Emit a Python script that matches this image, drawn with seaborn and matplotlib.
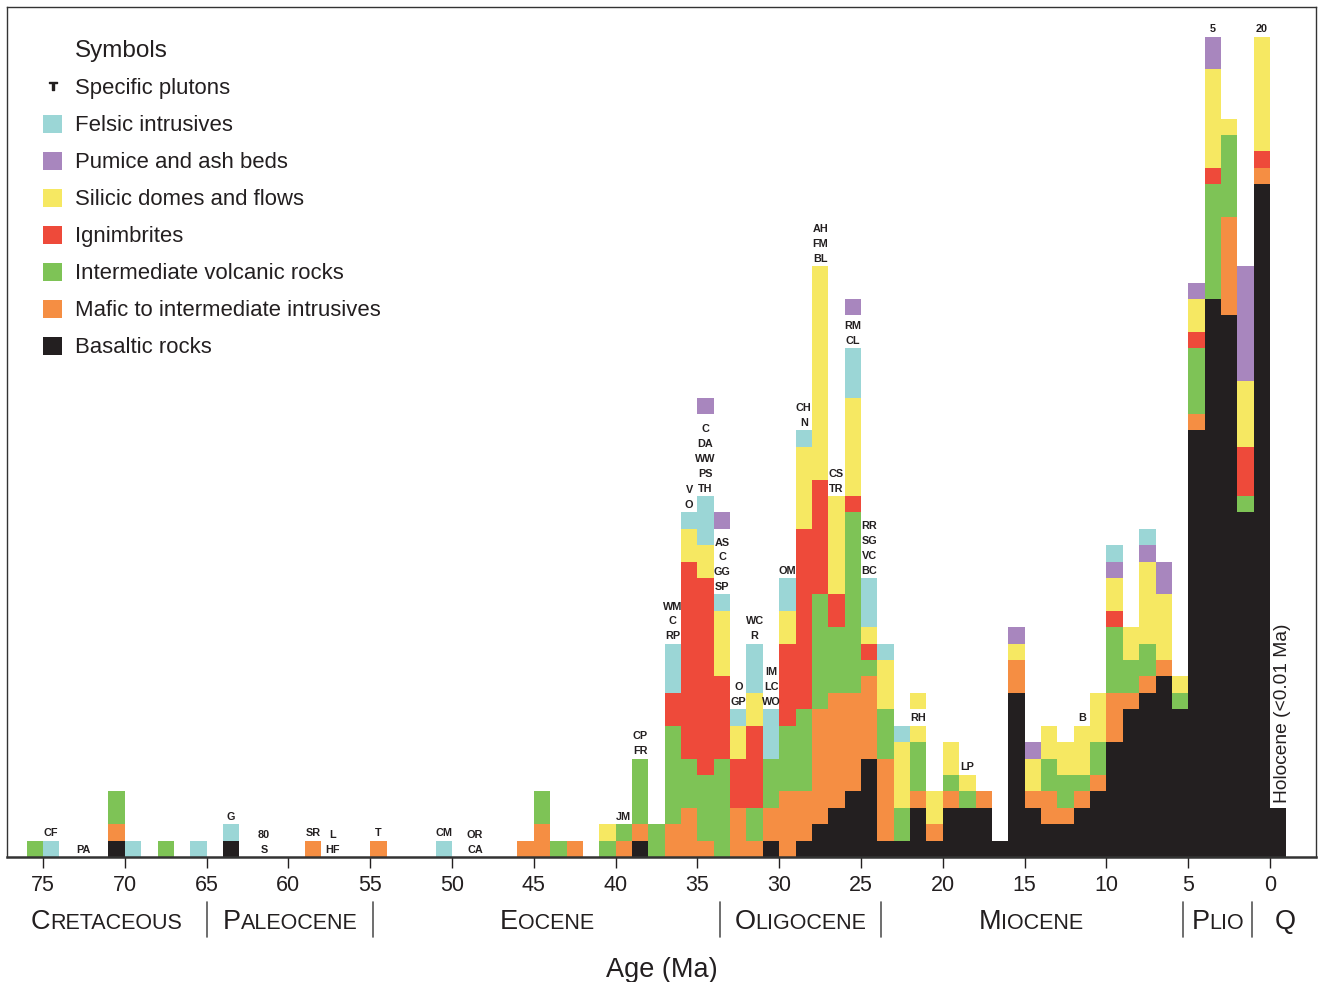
import numpy as np
import pandas as pd
import matplotlib
matplotlib.use('Agg')
import matplotlib.pyplot as plt
from matplotlib.patches import Patch
from matplotlib.lines import Line2D
from matplotlib.offsetbox import TextArea, HPacker, AnnotationBbox
import seaborn as sns

# start (Ma) of each 1-Ma bin that holds something, young -> old
bin_start = [-1, 0, 1, 2, 3, 4, 5, 6, 7, 8, 9,
             10, 11, 12, 13, 14, 15, 16, 17, 18, 19,
             20, 21, 22, 23, 24, 25, 26, 27, 28, 29,
             30, 31, 32, 33, 34, 35, 36, 37, 38, 39, 40,
             42, 43, 44, 45, 50, 54, 58, 63, 65, 67, 69, 70, 74, 75]

basaltic = [3, 41, 21, 33, 34, 26, 9, 11, 10, 9, 7,
            4, 3, 2, 2, 3, 10, 1, 3, 3, 3,
            1, 3, 1, 1, 6, 4, 3, 2, 1, 0,
            1, 0, 0, 0, 0, 0, 0, 0, 1, 0, 0,
            0, 0, 0, 0, 0, 0, 0, 1, 0, 0, 0, 1, 0, 0]
mafic = [0, 1, 0, 6, 0, 1, 0, 1, 1, 1, 3,
         1, 1, 1, 2, 1, 2, 0, 1, 0, 1,
         1, 1, 0, 5, 5, 6, 7, 7, 3, 4,
         2, 1, 3, 0, 1, 3, 2, 0, 1, 1, 0,
         1, 0, 2, 1, 0, 1, 1, 0, 0, 0, 0, 1, 0, 0]
intermediate = [0, 0, 1, 5, 7, 4, 1, 0, 2, 2, 4,
                2, 1, 2, 2, 0, 0, 0, 0, 1, 1,
                0, 3, 2, 3, 1, 11, 4, 7, 5, 4,
                3, 2, 0, 6, 4, 3, 6, 2, 4, 1, 1,
                0, 1, 2, 0, 0, 0, 0, 0, 0, 1, 0, 2, 0, 1]
ignimbrites = [0, 1, 3, 0, 1, 1, 0, 0, 0, 0, 1,
               0, 0, 0, 0, 0, 0, 0, 0, 0, 0,
               0, 0, 0, 0, 1, 1, 2, 7, 11, 5,
               0, 5, 3, 5, 12, 12, 2, 0, 0, 0, 0,
               0, 0, 0, 0, 0, 0, 0, 0, 0, 0, 0, 0, 0, 0]
silicic = [0, 7, 4, 1, 6, 2, 1, 4, 5, 2, 2,
           3, 3, 2, 2, 2, 1, 0, 0, 1, 2,
           2, 1, 4, 3, 1, 6, 6, 13, 5, 2,
           0, 2, 2, 4, 2, 2, 0, 0, 0, 0, 1,
           0, 0, 0, 0, 0, 0, 0, 0, 0, 0, 0, 0, 0, 0]
pumice = [0, 0, 7, 0, 2, 1, 0, 2, 1, 0, 1,
          0, 0, 0, 0, 1, 1, 0, 0, 0, 0,
          0, 0, 0, 0, 0, 0, 0, 0, 0, 0,
          0, 0, 0, 0, 0, 0, 0, 0, 0, 0, 0,
          0, 0, 0, 0, 0, 0, 0, 0, 0, 0, 0, 0, 0, 0]
felsic = [0, 0, 0, 0, 0, 0, 0, 0, 1, 0, 1,
          0, 0, 0, 0, 0, 0, 0, 0, 0, 0,
          0, 0, 1, 1, 3, 3, 0, 0, 1, 2,
          3, 3, 1, 1, 3, 1, 3, 0, 0, 0, 0,
          0, 0, 0, 0, 1, 0, 0, 1, 1, 0, 1, 0, 1, 0]

# blank room left for the pluton labels, and the blocks drawn above it
label_gap = {21: 1, 25: 2, 33: 4, 34: 5}
silicic_above = {21: 1}
pumice_above = {25: 1, 33: 1, 34: 1}

# specific plutons: (age of label centre, text)
plutons = [(74.5, 'CF'), (72.5, 'PA'), (63.5, 'G'), (61.5, '80\nS'), (58.5, 'SR'),
           (57.3, 'L\nHF'), (54.5, 'T'), (50.5, 'CM'), (48.6, 'OR\nCA'), (39.5, 'JM'),
           (38.5, 'CP\nFR'), (36.5, 'WM\nC\nRP'), (35.5, 'V\nO'),
           (34.5, 'C\nDA\nWW\nPS\nTH'), (33.5, 'AS\nC\nGG\nSP'), (32.5, 'O\nGP'),
           (31.5, 'WC\nR'), (30.5, 'IM\nLC\nWO'), (29.5, 'OM'), (28.5, 'CH\nN'),
           (27.5, 'AH\nFM\nBL'), (26.5, 'CS\nTR'), (25.5, 'RM\nCL'),
           (24.5, 'RR\nSG\nVC\nBC'), (21.5, 'RH'), (18.5, 'LP'), (11.5, 'B'),
           (3.5, '5'), (0.5, '20')]

periods = [('C', 'RETACEOUS', 71.1), ('P', 'ALEOCENE', 59.9), ('E', 'OCENE', 44.2),
           ('O', 'LIGOCENE', 28.7), ('M', 'IOCENE', 14.6), ('P', 'LIO', 3.2), ('Q', '', -0.9)]
period_bounds = [65.0, 54.8, 33.6, 23.8, 5.3, 1.1]

colors = {'felsic': '#9bd6d6', 'pumice': '#a886be', 'silicic': '#f6e862',
          'ignimbrites': '#ee4a3a', 'intermediate': '#7ec356', 'mafic': '#f58e43',
          'basaltic': '#231f20', 'gap': 'white',
          'silicic_above': '#f6e862', 'pumice_above': '#a886be'}
legend_names = [('felsic', 'Felsic intrusives'), ('pumice', 'Pumice and ash beds'),
                ('silicic', 'Silicic domes and flows'), ('ignimbrites', 'Ignimbrites'),
                ('intermediate', 'Intermediate volcanic rocks'),
                ('mafic', 'Mafic to intermediate intrusives'), ('basaltic', 'Basaltic rocks')]
# first level is drawn on top of the stack
stack_order = ['pumice_above', 'silicic_above', 'gap', 'felsic', 'pumice', 'silicic',
               'ignimbrites', 'intermediate', 'mafic', 'basaltic']

df = pd.DataFrame({'start': bin_start, 'basaltic': basaltic, 'mafic': mafic,
                   'intermediate': intermediate, 'ignimbrites': ignimbrites,
                   'silicic': silicic, 'pumice': pumice, 'felsic': felsic})
df['gap'] = df['start'].map(label_gap).fillna(0)
df['silicic_above'] = df['start'].map(silicic_above).fillna(0)
df['pumice_above'] = df['start'].map(pumice_above).fillna(0)
main_cols = ['basaltic', 'mafic', 'intermediate', 'ignimbrites', 'silicic', 'pumice', 'felsic']
stack_top = dict(zip(df['start'], df[main_cols].sum(axis=1)))
long = df.melt(id_vars='start', var_name='kind', value_name='count')
long = long[long['count'] > 0].copy()
long['mid'] = long['start'] + 0.5

sns.set_style('white')
plt.rcParams['font.family'] = ['Liberation Sans', 'DejaVu Sans']
ink = '#231f20'

fig = plt.figure(figsize=(13.18, 9.82), dpi=100)
ax = fig.add_axes([7 / 1318, 125 / 982, 1309 / 1318, 850 / 982])

sns.histplot(data=long, x='mid', weights='count', hue='kind', hue_order=stack_order,
             palette=colors, multiple='stack', bins=list(range(-1, 77)), alpha=1,
             linewidth=0, legend=False, ax=ax)

for age, txt in plutons:
    base = stack_top.get(int(np.floor(age)), 0)
    ax.text(age, base + 0.15, txt, ha='center', va='bottom', fontsize=7.8,
            fontweight='bold', color=ink, linespacing=1.6, zorder=5)

ax.text(-0.75, stack_top[-1] + 0.3, 'Holocene (<0.01 Ma)', rotation=90, ha='center',
        va='bottom', fontsize=13.8, color=ink)

ax.set_xlim(77.2, -2.81)
ax.set_ylim(0, 51.8)
ax.set_xticks(range(0, 80, 5))
ax.set_yticks([])
ax.set_ylabel('')
ax.set_xlabel('Age (Ma)', fontsize=19.5, color=ink)
ax.xaxis.set_label_coords(0.5, -0.118)
ax.tick_params(axis='x', direction='out', length=8, width=1, pad=5, labelsize=15.5,
               colors=ink, bottom=True)
for side in ['left', 'top', 'right']:
    ax.spines[side].set_linewidth(1.0)
    ax.spines[side].set_color('#333333')
ax.spines['bottom'].set_linewidth(1.8)
ax.spines['bottom'].set_color('#333333')

# geologic periods under the axis
for b in period_bounds:
    ax.plot([b, b], [-0.053, -0.094], transform=ax.get_xaxis_transform(),
            color='#555555', lw=1.2, clip_on=False)
for first, rest, mid in periods:
    parts = [TextArea(first, textprops=dict(fontsize=19.5, color=ink))]
    if rest:
        parts.append(TextArea(rest, textprops=dict(fontsize=15.5, color=ink)))
    box = HPacker(children=parts, align='baseline', pad=0, sep=0)
    ab = AnnotationBbox(box, (mid, -0.076), xycoords=('data', 'axes fraction'),
                        frameon=False, box_alignment=(0.5, 0.5), pad=0,
                        annotation_clip=False)
    ax.add_artist(ab)

handles = [Patch(facecolor='none', edgecolor='none'),
           Line2D([], [], marker='$\\mathsf{T}$', linestyle='none', color=ink, markersize=6)]
labels = ['Symbols', 'Specific plutons']
for key, name in legend_names:
    handles.append(Patch(facecolor=colors[key], edgecolor='none'))
    labels.append(name)
leg = ax.legend(handles, labels, loc='upper left', bbox_to_anchor=(0.0275, 0.9606),
                frameon=False, fontsize=15.9, handlelength=0.88, handleheight=0.86,
                handletextpad=0.55, labelspacing=0.70, borderpad=0, borderaxespad=0)
leg.get_texts()[0].set_fontsize(17.5)
for t in leg.get_texts():
    t.set_color(ink)

fig.savefig('out.png', dpi=100)
